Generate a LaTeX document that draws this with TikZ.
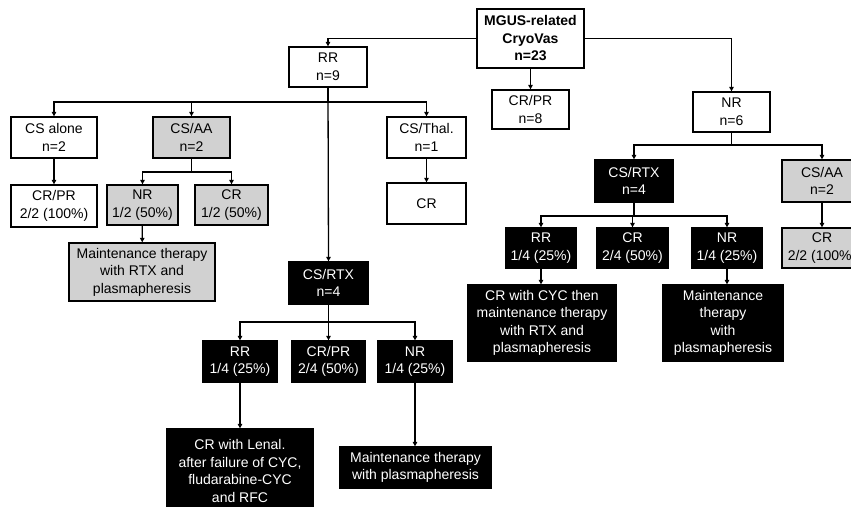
\documentclass[tikz,border=0pt]{standalone}
\usepackage{fontspec}
\setmainfont{Liberation Sans}
\usetikzlibrary{positioning,arrows.meta}

\tikzset{
  box/.style={draw,line width=1.3pt,inner sep=0pt,align=center,
    font=\fontsize{14}{17.5}\selectfont},
  wbox/.style={box,fill=white},
  gbox/.style={box,fill=black!18},
  kbox/.style={box,fill=black,text=white},
  link/.style={line width=1.3pt,-{Triangle[length=4.5pt,width=4.5pt]}}
}

\begin{document}
\begin{tikzpicture}[x=1pt,y=-1pt]
\useasboundingbox (0,0) rectangle (851,506);
% top level
\node[wbox,minimum width=107,minimum height=59,font=\fontsize{14}{17.5}\selectfont\bfseries]
  (root) at (530.5,38.5) {MGUS-related\\CryoVas\\n=23};
\node[wbox,minimum width=78,minimum height=40] (rr) at (328,67) {RR\\n=9};
\node[wbox,minimum width=77,minimum height=39] (crpr8) at (530.5,109.5) {CR/PR\\n=8};
\node[wbox,minimum width=77,minimum height=40] (nr6) at (731.5,112) {NR\\n=6};
% RR branch
\node[wbox,minimum width=86,minimum height=41] (csalone) at (54,137.5) {CS alone\\n=2};
\node[gbox,minimum width=77,minimum height=41] (csaa) at (191.5,137.5) {CS/AA\\n=2};
\node[wbox,minimum width=79,minimum height=41] (csthal) at (426.5,137.5) {CS/Thal.\\n=1};
\node[wbox,minimum width=86,minimum height=42] (crpr22) at (54,206) {CR/PR\\2/2 (100\%)};
\node[gbox,minimum width=71,minimum height=40] (nr12) at (142.5,205) {NR\\1/2 (50\%)};
\node[gbox,minimum width=73,minimum height=40] (cr12) at (231.5,205) {CR\\1/2 (50\%)};
\node[wbox,minimum width=79,minimum height=41] (crthal) at (426.5,203.5) {CR};
\node[gbox,minimum width=146,minimum height=58] (maintaa) at (142,272)
  {Maintenance therapy\\with RTX and\\plasmapheresis};
\node[kbox,minimum width=79,minimum height=42] (csrtxl) at (328.5,283) {CS/RTX\\n=4};
\node[kbox,minimum width=74,minimum height=41] (rrl) at (240,361.5) {RR\\1/4 (25\%)};
\node[kbox,minimum width=73,minimum height=41] (crprl) at (328.5,361.5) {CR/PR\\2/4 (50\%)};
\node[kbox,minimum width=74,minimum height=41] (nrl) at (415,361.5) {NR\\1/4 (25\%)};
\node[kbox,minimum width=146,minimum height=84] (lenal) at (240,471)
  {CR with Lenal.\\after failure of CYC,\\fludarabine-CYC\\and RFC};
\node[kbox,minimum width=151,minimum height=41] (maintl) at (415.5,467.5)
  {Maintenance therapy\\with plasmapheresis};
% NR branch
\node[kbox,minimum width=78,minimum height=42] (csrtxr) at (634,181) {CS/RTX\\n=4};
\node[gbox,minimum width=80,minimum height=42] (csaar) at (822,181) {CS/AA\\n=2};
\node[kbox,minimum width=70,minimum height=40] (rrr) at (541,248) {RR\\1/4 (25\%)};
\node[kbox,minimum width=71,minimum height=40] (crr) at (632.5,248) {CR\\2/4 (50\%)};
\node[kbox,minimum width=70,minimum height=40] (nrr) at (727,248) {NR\\1/4 (25\%)};
\node[gbox,minimum width=80,minimum height=40] (crar) at (822,248) {CR\\2/2 (100\%)};
\node[kbox,minimum width=148,minimum height=76] (cyc) at (542,323)
  {CR with CYC then\\maintenance therapy\\with RTX and\\plasmapheresis};
\node[kbox,minimum width=120,minimum height=76] (maintr) at (723,323)
  {Maintenance\\therapy\\with\\plasmapheresis};
% split points
\coordinate (rrsplit) at (328,102);
\coordinate (aasplit) at (191.5,172);
\coordinate (rtxlsplit) at (328.5,322);
\coordinate (nrsplit) at (731.5,145);
\coordinate (rtxrsplit) at (634,216);
% connectors
\draw[link] (root.west) -| (rr.north);
\draw[link] (root.east) -| (nr6.north);
\draw[link] (root.south) -- (crpr8.north);
\draw[line width=1.3pt] (rr.south) -- (rrsplit);
\draw[link] (rrsplit) -| (csalone.north);
\draw[link] (rrsplit) -| (csaa.north);
\draw[link] (rrsplit) -| (csthal.north);
\draw[link] (rr.south) -- (csrtxl.north);
\draw[link] (csalone) -- (crpr22);
\draw[line width=1.3pt] (csaa.south) -- (aasplit);
\draw[link] (aasplit) -| (nr12.north);
\draw[link] (aasplit) -| (cr12.north);
\draw[link] (csthal) -- (crthal);
\draw[link] (nr12) -- (maintaa);
\draw[line width=1.3pt] (csrtxl.south) -- (rtxlsplit);
\draw[link] (rtxlsplit) -| (rrl.north);
\draw[link] (rtxlsplit) -- (crprl.north);
\draw[link] (rtxlsplit) -| (nrl.north);
\draw[link] (rrl) -- (rrl |- lenal.north);
\draw[link] (nrl) -- (nrl |- maintl.north);
\draw[line width=1.3pt] (nr6.south) -- (nrsplit);
\draw[link] (nrsplit) -| (csrtxr.north);
\draw[link] (nrsplit) -| (csaar.north);
\draw[line width=1.3pt] (csrtxr.south) -- (rtxrsplit);
\draw[link] (rtxrsplit) -| (rrr.north);
\draw[link] (rtxrsplit) -| (crr.north);
\draw[link] (rtxrsplit) -| (nrr.north);
\draw[link] (csaar) -- (crar);
\draw[link] (rrr) -- (rrr |- cyc.north);
\draw[link] (nrr) -- (nrr |- maintr.north);
\end{tikzpicture}
\end{document}
